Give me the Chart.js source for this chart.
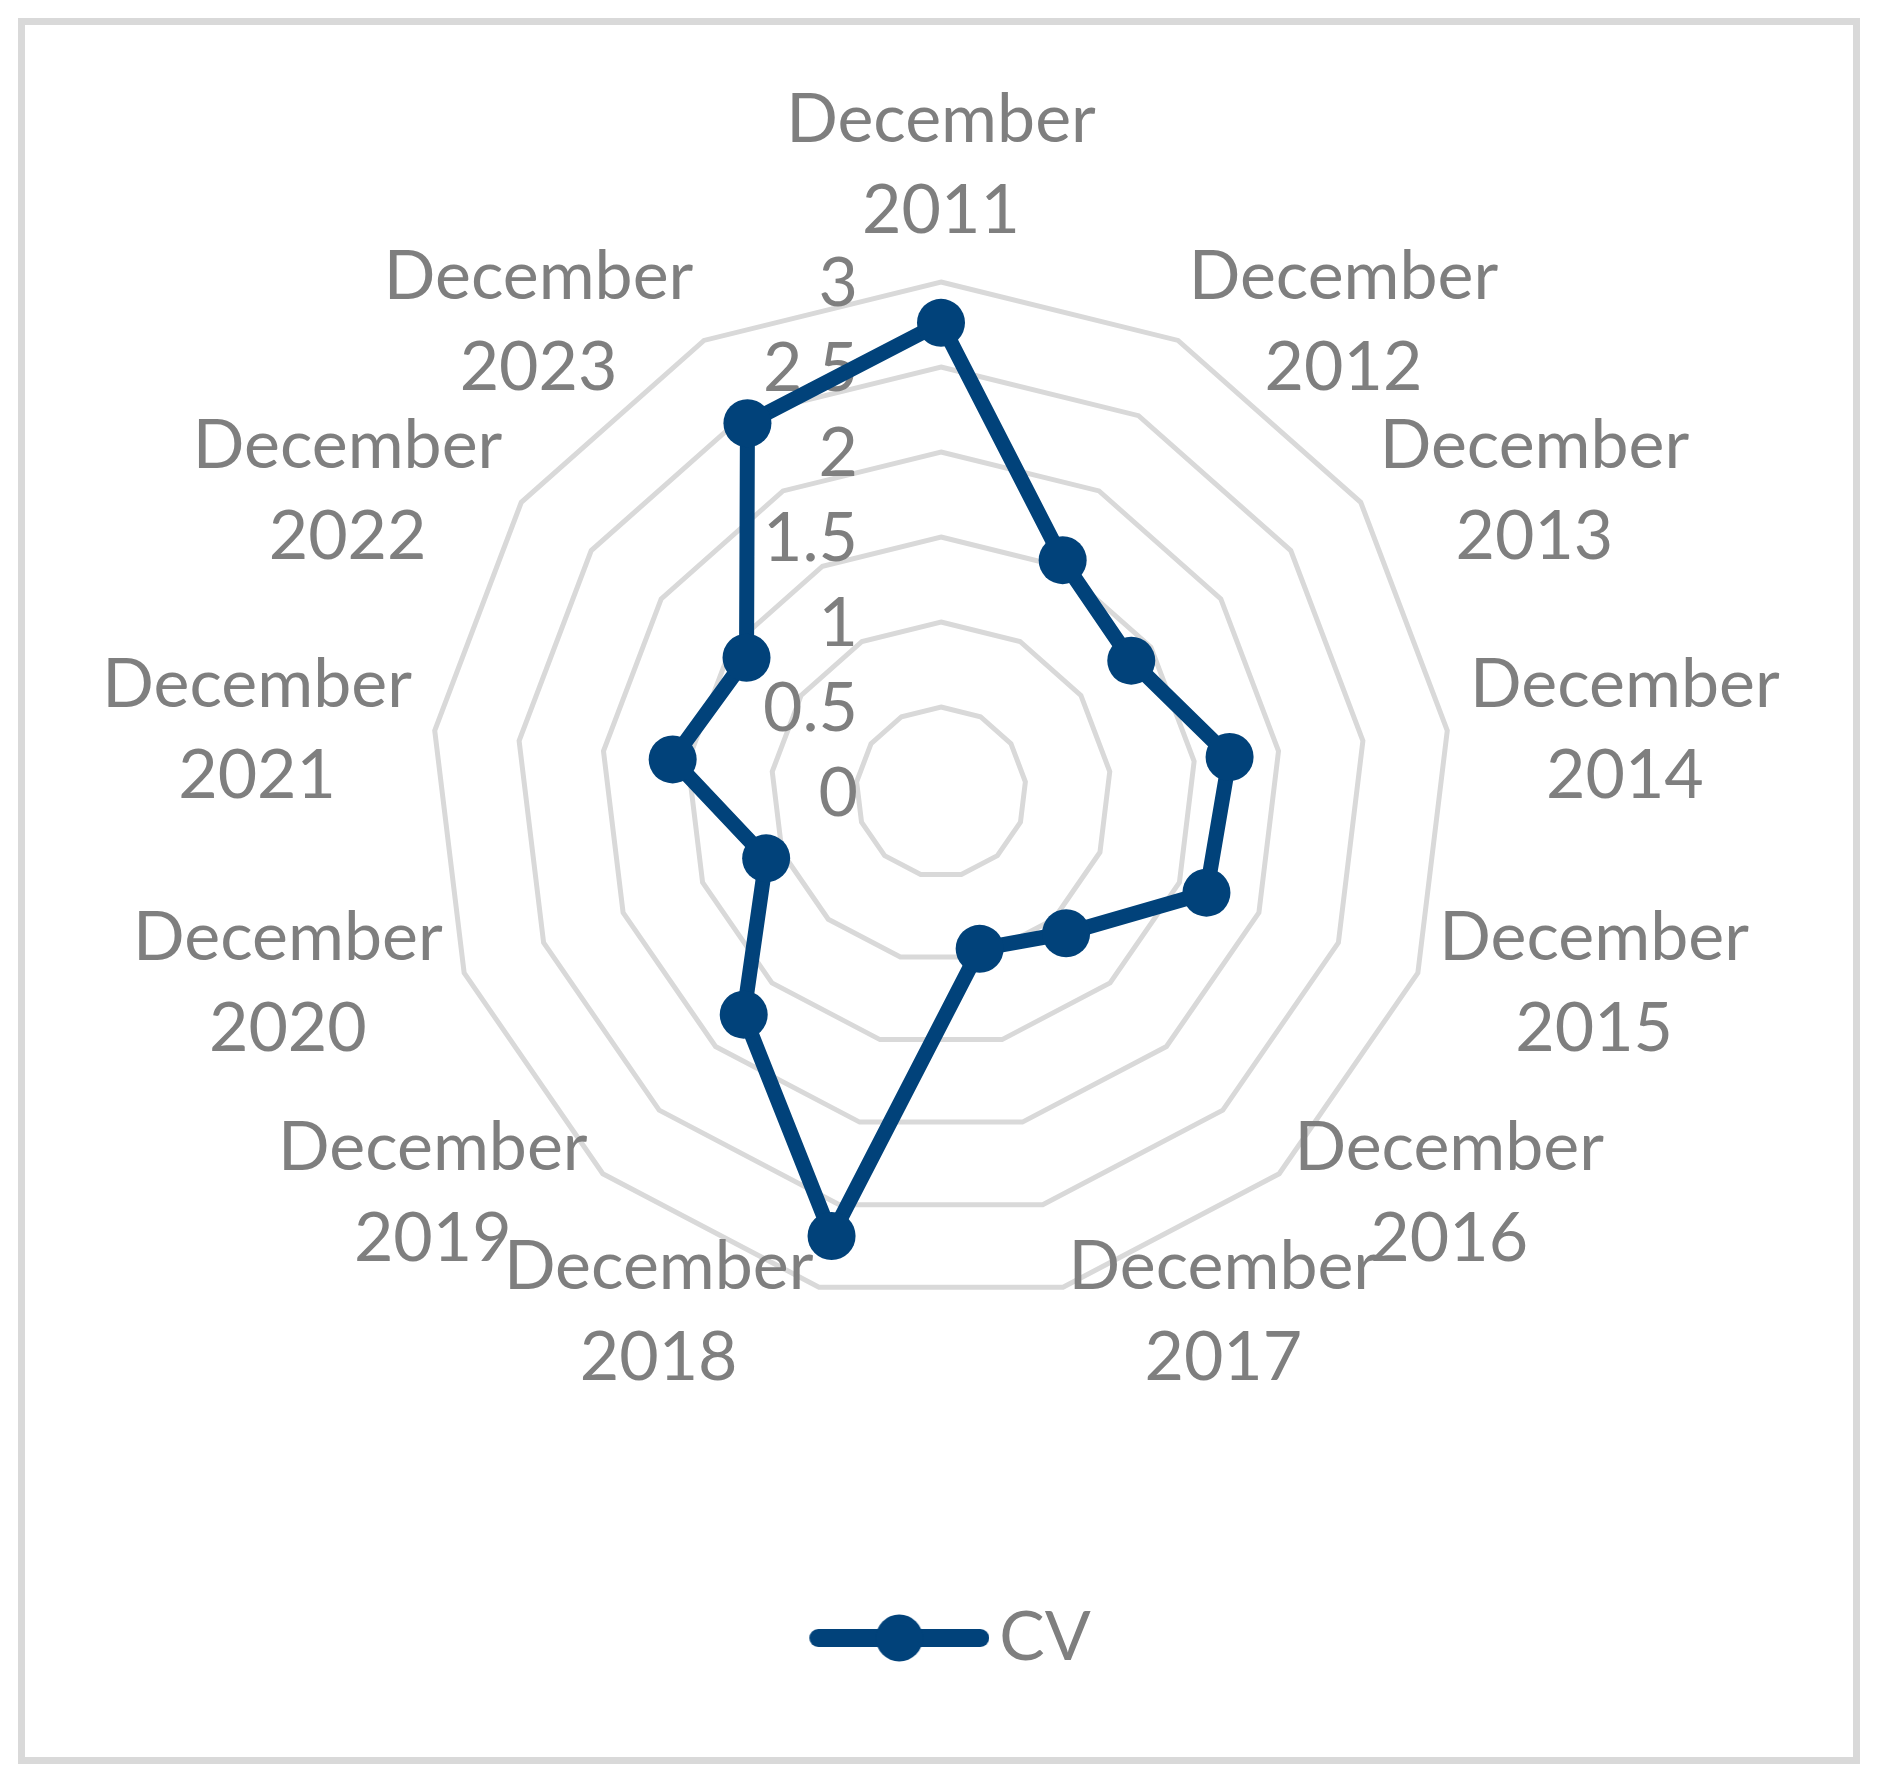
<!DOCTYPE html>
<html>
<head>
<meta charset="utf-8">
<script src="https://cdn.jsdelivr.net/npm/chart.js@4.4.1/dist/chart.umd.min.js"></script>
<style>
body { margin: 0; background: #fff; }
#marco { position: absolute; left: 18px; top: 18px; width: 1842px; height: 1746px; border: 7px solid #d9d9d9; box-sizing: border-box; }
#grafico { position: absolute; left: 0; top: 0; }
</style>
</head>
<body>
<div id="marco"></div>
<canvas id="grafico" width="1882" height="1781"></canvas>
<script>
const anios = ['2011', '2012', '2013', '2014', '2015', '2016', '2017', '2018', '2019', '2020', '2021', '2022', '2023'];
const valoresCV = [2.76, 1.54, 1.36, 1.71, 1.67, 1.11, 0.95, 2.69, 1.75, 1.10, 1.59, 1.39, 2.45];
const ticksEje = [0, 0.5, 1, 1.5, 2, 2.5, 3];
const nombreSerie = 'CV';

const AZUL = '#01427a', GRIS = '#7f7f7f', GRILLA = '#d9d9d9';
const FUENTE = 'Lato';
const TAM = 68;

// icono de leyenda: linea con marcador (corrido a la derecha como en el original)
const icono = document.createElement('canvas');
icono.width = 222; icono.height = 50;
const ic = icono.getContext('2d');
ic.strokeStyle = AZUL; ic.lineWidth = 18; ic.lineCap = 'round';
ic.beginPath(); ic.moveTo(51, 25); ic.lineTo(213, 25); ic.stroke();
ic.fillStyle = AZUL;
ic.beginPath(); ic.arc(132, 25, 23.5, 0, Math.PI * 2); ic.fill();

// textos del eje y de las categorias, centrados como en Excel
const textosRadar = {
    id: 'textosRadar',
    beforeDatasetsDraw(chart) {
        const r = chart.scales.r, ctx = chart.ctx;
        ctx.save();
        ctx.font = `${TAM}px ${FUENTE}`;
        ctx.fillStyle = GRIS;
        ctx.textBaseline = 'alphabetic';
        ctx.textAlign = 'right';
        r.ticks.forEach(t => {
            const y = r.yCenter - r.getDistanceFromCenterForValue(t.value);
            ctx.fillText(String(+t.value.toFixed(2)), r.xCenter - 83, y + 24);
        });
        ctx.textAlign = 'center';
        chart.data.labels.forEach((lineas, i) => {
            const p = r.getPointPosition(i, r.drawingArea + 23);
            const ancho = Math.max(...lineas.map(l => ctx.measureText(l).width));
            const grados = Math.round(r.getIndexAngle(i) * 180 / Math.PI) % 360;
            let x = p.x, y = p.y;
            if (grados === 0) y -= 96;
            else if (grados < 180) x += ancho / 2;
            else if (grados > 180) x -= ancho / 2;
            ctx.fillText(lineas[0], x, y - 21);
            ctx.fillText(lineas[1], x, y + 70);
        });
        ctx.restore();
    }
};

new Chart(document.getElementById('grafico'), {
    type: 'radar',
    data: {
        labels: anios.map(a => ['December', a]),
        datasets: [{
            label: nombreSerie, data: valoresCV,
            borderColor: AZUL, backgroundColor: AZUL, borderWidth: 15, borderJoinStyle: 'round',
            pointRadius: 24, pointHoverRadius: 24, pointBackgroundColor: AZUL, pointBorderWidth: 0, fill: false
        }]
    },
    options: {
        responsive: false, animation: false, devicePixelRatio: 1,
        layout: { padding: { left: 431, right: 431, top: 0, bottom: 99 } },
        scales: {
            r: {
                min: ticksEje[0], max: ticksEje[ticksEje.length - 1],
                ticks: { stepSize: ticksEje[1] - ticksEje[0], display: false },
                grid: { color: GRILLA, lineWidth: 5 },
                angleLines: { display: false },
                pointLabels: { display: false }
            }
        },
        plugins: {
            legend: {
                position: 'bottom',
                labels: { usePointStyle: true, pointStyle: icono, pointStyleWidth: 174, padding: 20, color: GRIS, font: { family: FUENTE, size: TAM } }
            },
            tooltip: { enabled: false }
        }
    },
    plugins: [textosRadar]
});
</script>
</body>
</html>
